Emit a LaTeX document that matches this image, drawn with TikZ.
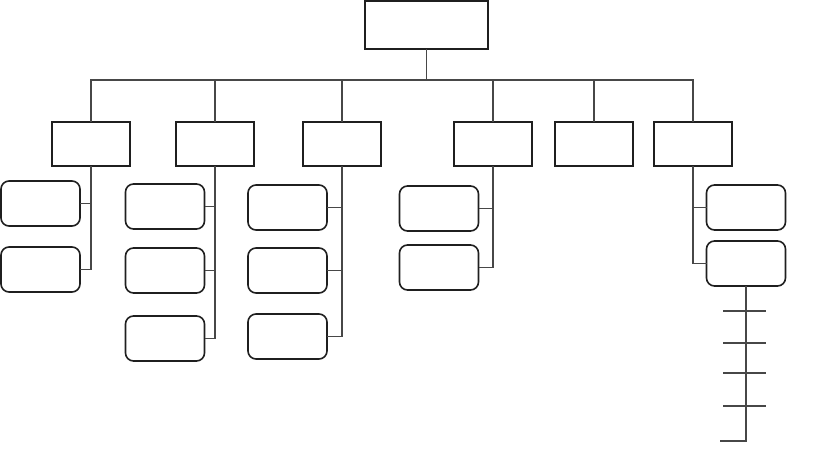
\documentclass[tikz,border=0pt]{standalone}
\usetikzlibrary{positioning}

\begin{document}
\begin{tikzpicture}[
    x=1pt, y=1pt,
    node distance=20pt,
    head/.style={draw=black!88, line width=1.7pt, minimum width=123pt, minimum height=48pt, inner sep=0pt, outer sep=0pt},
    unit/.style={draw=black!88, line width=1.7pt, minimum width=78pt, minimum height=44pt, inner sep=0pt, outer sep=0pt},
    leaf/.style={draw=black!88, line width=1.6pt, rounded corners=8pt, minimum width=79pt, minimum height=45pt, inner sep=0pt, outer sep=0pt},
    link/.style={draw=black!72, line width=1.4pt}
]
\useasboundingbox (0,0) rectangle (819,-453);
% top and second row
\node[head] (top) at (426.5,-25) {};
\node[unit] (b1) at (91,-144) {};
\node[unit, right=46pt of b1] (b2) {};
\node[unit, right=49pt of b2] (b3) {};
\node[unit, right=73pt of b3] (b4) {};
\node[unit, right=23pt of b4] (b5) {};
\node[unit, right=21pt of b5] (b6) {};
% third row
\node[leaf, anchor=north east] (c11) at ([xshift=-11pt, yshift=-15pt]b1.south) {};
\node[leaf, below=21pt of c11] (c12) {};
\node[leaf, anchor=north east] (c21) at ([xshift=-10.5pt, yshift=-18pt]b2.south) {};
\node[leaf, below=19pt of c21] (c22) {};
\node[leaf, below=23pt of c22] (c23) {};
\node[leaf, anchor=north east] (c31) at ([xshift=-15pt, yshift=-19pt]b3.south) {};
\node[leaf, below=18pt of c31] (c32) {};
\node[leaf, below=21pt of c32] (c33) {};
\node[leaf, anchor=north east] (c41) at ([xshift=-14.5pt, yshift=-20pt]b4.south) {};
\node[leaf, below=14pt of c41] (c42) {};
\node[leaf, anchor=north west] (c61) at ([xshift=13.5pt, yshift=-19pt]b6.south) {};
\node[leaf, below=11pt of c61] (c62) {};
% bus
\draw[link] (top.south) -- ++(0,-31) coordinate (bus);
\draw[link] (b1.north) |- (bus) -| (b6.north);
\foreach \b in {b2,b3,b4,b5}
    \draw[link] (\b.north) -- (\b.north |- bus);
% branches
\draw[link] (b1.south) -- (c12.east -| b1.south) -- (c12.east);
\draw[link] (c11.east) -- (c11.east -| b1.south);
\draw[link] (b2.south) -- (c23.east -| b2.south) -- (c23.east);
\foreach \c in {c21,c22}
    \draw[link] (\c.east) -- (\c.east -| b2.south);
\draw[link] (b3.south) -- (c33.east -| b3.south) -- (c33.east);
\foreach \c in {c31,c32}
    \draw[link] (\c.east) -- (\c.east -| b3.south);
\draw[link] (b4.south) -- (c42.east -| b4.south) -- (c42.east);
\draw[link] (c41.east) -- (c41.east -| b4.south);
\draw[link] (b6.south) |- (c62.west);
\draw[link] (c61.west -| b6.south) -- (c61.west);
% ladder
\coordinate (lend) at ([yshift=-155pt]c62.south);
\draw[link] (c62.south) -- (lend) -- ++(-26,0);
\foreach \d in {25,57,87,120}
    \draw[link] ([xshift=-23pt, yshift=-\d pt]c62.south) -- ++(43,0);
\end{tikzpicture}
\end{document}
